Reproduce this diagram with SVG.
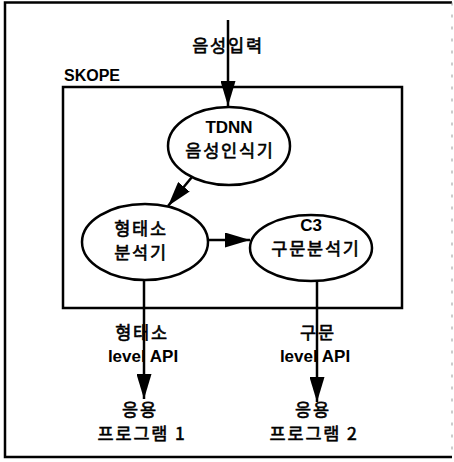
<svg xmlns="http://www.w3.org/2000/svg" width="454" height="462" viewBox="0 0 454 462">
<style>
.frame{fill:none;stroke:#000;stroke-width:2.5}
.faint{fill:none;stroke:#999;stroke-width:1;stroke-dasharray:3 9}
.node{fill:#fff;stroke:#000;stroke-width:2.5}
.edge{fill:none;stroke:#000;stroke-width:2.5}
text{font-family:"Liberation Sans","Noto Sans CJK KR",sans-serif;font-size:17px;font-weight:bold;fill:#000;text-anchor:middle}
.ko{font-family:"Noto Sans CJK KR",sans-serif;font-size:17.5px;font-weight:normal;letter-spacing:1.8px;stroke:#000;stroke-width:0.6px}
</style>
<defs>
<marker id="ah" markerWidth="25" markerHeight="15" refX="25" refY="7.5" viewBox="0 0 25 15" orient="auto" markerUnits="userSpaceOnUse">
<path d="M0,0 L25,7.5 L0,15 Z" fill="#000"/>
</marker>
</defs>
<g id="outer-frame">
<path class="frame" d="M452,2.5 H5 V457 H452"/>
<path class="faint" d="M452,2.5 V457"/>
</g>
<g id="skope">
<rect class="frame" x="63" y="87" width="339" height="221"/>
<text x="64" y="81" style="text-anchor:start;font-size:16px">SKOPE</text>
</g>
<g id="connectors">
<line class="edge" x1="228" y1="20" x2="228" y2="106" marker-end="url(#ah)"/>
<line class="edge" x1="192" y1="177" x2="168" y2="206" marker-end="url(#ah)"/>
<line class="edge" x1="209" y1="240" x2="250" y2="240" marker-end="url(#ah)"/>
<line class="edge" x1="144" y1="280" x2="144" y2="399" marker-end="url(#ah)"/>
<line class="edge" x1="317" y1="281" x2="317" y2="402" marker-end="url(#ah)"/>
</g>
<g id="input-label">
<text class="ko" x="228" y="52">음성입력</text>
</g>
<g id="tdnn">
<ellipse class="node" cx="229" cy="146" rx="61" ry="39"/>
<text x="229" y="133">TDNN</text>
<text class="ko" x="230" y="157">음성인식기</text>
</g>
<g id="morph">
<ellipse class="node" cx="145" cy="242" rx="63" ry="38"/>
<text class="ko" x="141" y="235">형태소</text>
<text class="ko" x="141" y="259">분석기</text>
</g>
<g id="c3">
<ellipse class="node" cx="311" cy="248" rx="61" ry="33"/>
<text x="311" y="231">C3</text>
<text class="ko" x="316" y="255">구문분석기</text>
</g>
<g id="morph-api">
<text class="ko" x="142" y="339">형태소</text>
<text x="143" y="362">level API</text>
</g>
<g id="syntax-api">
<text class="ko" x="318" y="339">구문</text>
<text x="315" y="362">level API</text>
</g>
<g id="app1">
<text class="ko" x="140" y="416">응용</text>
<text class="ko" x="142" y="440">프로그램 1</text>
</g>
<g id="app2">
<text class="ko" x="313" y="416">응용</text>
<text class="ko" x="314" y="440">프로그램 2</text>
</g>
</svg>
